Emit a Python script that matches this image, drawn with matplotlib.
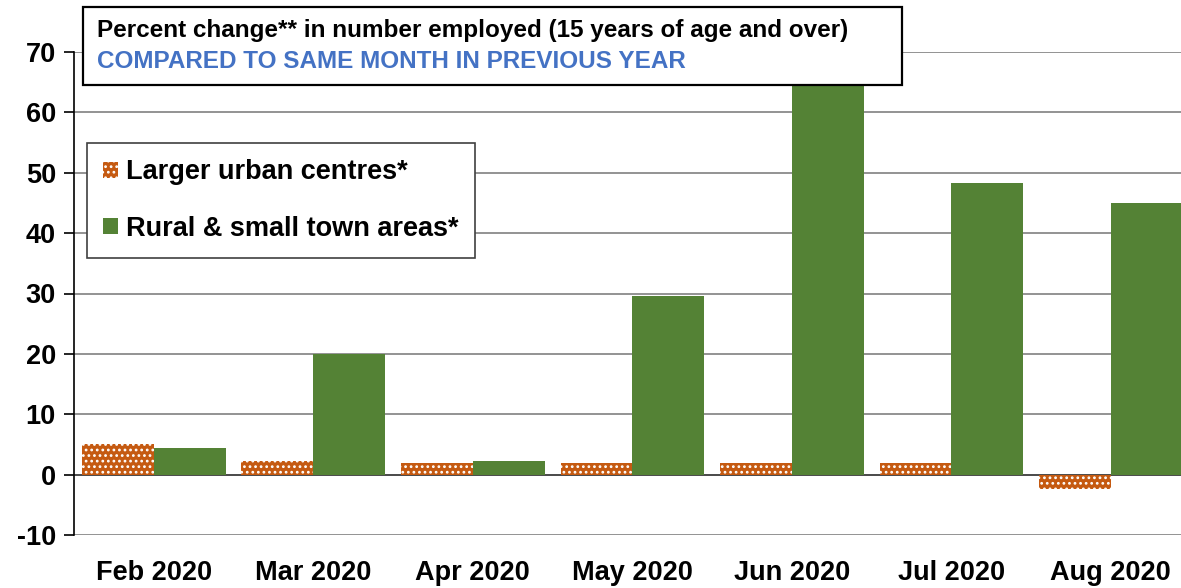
import numpy as np
import matplotlib.pyplot as plt
from matplotlib.patches import Rectangle

plt.rcParams['font.family'] = ['Liberation Sans', 'DejaVu Sans']
plt.rcParams['hatch.linewidth'] = 1.2
plt.rcParams['axes.unicode_minus'] = False

months = ["Feb 2020", "Mar 2020", "Apr 2020", "May 2020", "Jun 2020", "Jul 2020", "Aug 2020"]
urban = [5.0, 2.2, 2.0, 2.0, 1.9, 1.9, -2.3]
rural = [4.4, 20.0, 2.3, 29.6, 72.5, 48.3, 45.0]
yticks = [-10, 0, 10, 20, 30, 40, 50, 60, 70]

URBAN_COLOR = "#C55A11"
RURAL_COLOR = "#548235"

fig = plt.figure(figsize=(11.81, 5.88), dpi=100)
ax = fig.add_axes([74 / 1181, 1 - 535 / 588, 1 - 74 / 1181, (535 - 52) / 588])

x = np.arange(len(months))
w = 0.45
ax.bar(x - w / 2, urban, w, color=URBAN_COLOR, edgecolor="white", linewidth=0,
       hatch="...", label="Larger urban centres*", zorder=3)
ax.bar(x + w / 2, rural, w, color=RURAL_COLOR, linewidth=0,
       label="Rural & small town areas*", zorder=3)

ax.set_ylim(-10, 70)
ax.set_xlim(-0.5, 6.44)
ax.set_yticks(yticks)
ax.set_xticks(x)
ax.set_xticklabels(months)
for lbl in ax.get_xticklabels() + ax.get_yticklabels():
    lbl.set_fontweight("bold")
    lbl.set_fontsize(19.5)
ax.tick_params(axis="x", length=0, pad=18)
ax.tick_params(axis="y", length=7, width=1.2, color="black", pad=6, direction="out")

ax.grid(axis="y", color="#808080", linewidth=1.2, zorder=0)
ax.axhline(0, color="#404040", linewidth=1.2, zorder=2)
for s in ["top", "right", "bottom"]:
    ax.spines[s].set_visible(False)
ax.spines["left"].set_color("black")
ax.spines["left"].set_linewidth(1.2)

# title box
box = Rectangle((83 / 1181, 1 - 85 / 588), (902 - 83) / 1181, 78 / 588,
                transform=fig.transFigure, facecolor="white", edgecolor="black",
                linewidth=1.6, zorder=10)
fig.patches.append(box)
fig.text(97 / 1181, 1 - 31 / 588, "Percent change** in number employed (15 years of age and over)",
         fontsize=17.5, fontweight="bold", color="black", va="center", zorder=11)
fig.text(97 / 1181, 1 - 61 / 588, "COMPARED TO SAME MONTH IN PREVIOUS YEAR",
         fontsize=17.5, fontweight="bold", color="#4472C4", va="center", zorder=11)

leg = ax.legend(loc="upper left", bbox_to_anchor=(87 / 1181, 1 - 143 / 588),
                bbox_transform=fig.transFigure, prop={"weight": "bold", "size": 19.5},
                frameon=True, fancybox=False, edgecolor="#404040", framealpha=1,
                handlelength=0.55, handleheight=0.55, handletextpad=0.3,
                labelspacing=1.12, borderpad=0.6, borderaxespad=0)
leg.get_frame().set_linewidth(1.2)

fig.savefig("out.png", dpi=100)
